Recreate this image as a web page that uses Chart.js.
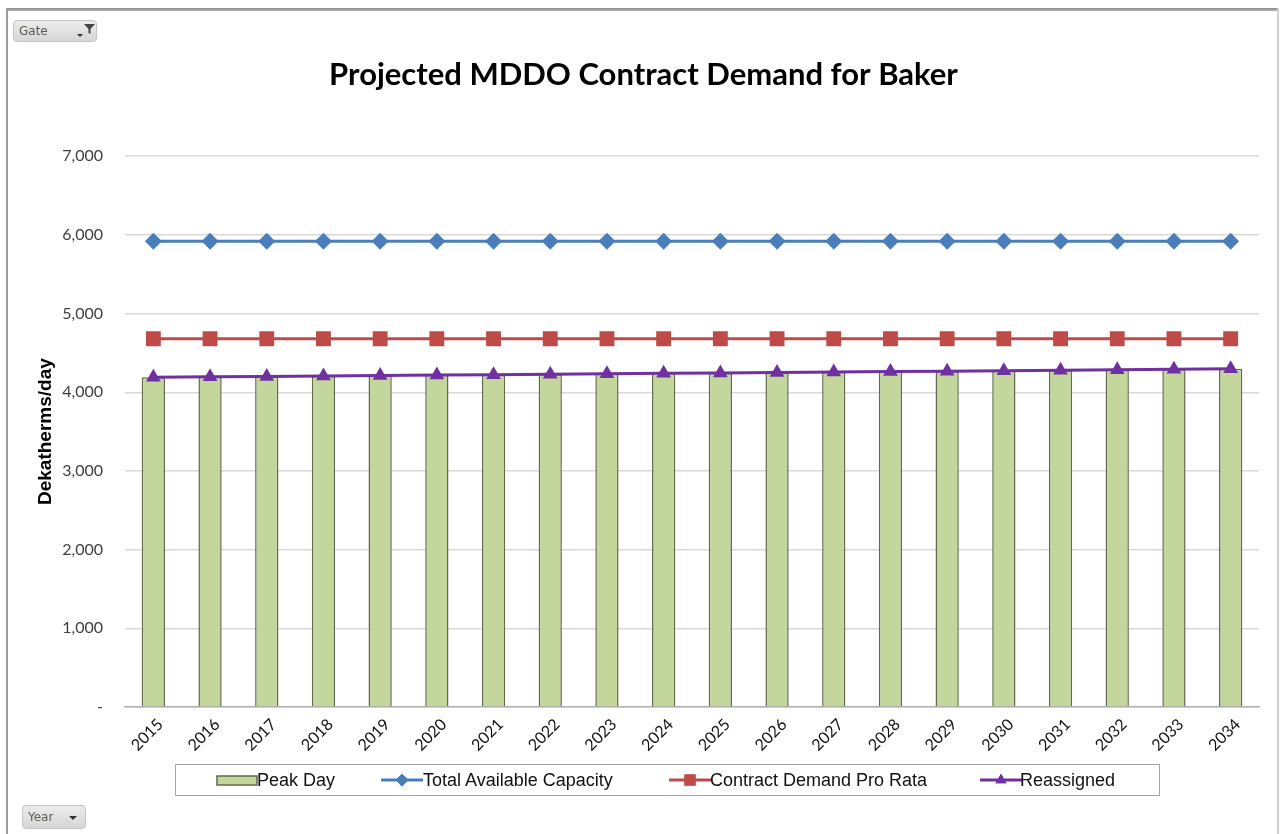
<!DOCTYPE html>
<html>
<head>
<meta charset="utf-8">
<script src="https://cdn.jsdelivr.net/npm/chart.js@4.4.1/dist/chart.umd.min.js"></script>
<style>
  html, body { margin: 0; padding: 0; background: #ffffff; }
  #wrap { position: relative; width: 1280px; height: 834px; overflow: hidden; background: #fff; }
  #c { position: absolute; left: 0; top: 0; }
  .frameTop { position: absolute; left: 6px; top: 8px; width: 1273px; height: 3px; background: linear-gradient(#8a8a8a, #b5b5b5); }
  .frameLeft { position: absolute; left: 6px; top: 8px; width: 2px; height: 826px; background: #9a9a9a; }
  .frameRight { position: absolute; left: 1277px; top: 8px; width: 2px; height: 826px; background: #cfcfcf; }
  .btn { position: absolute; border: 1px solid #c4c4c4; border-radius: 4px;
         background: linear-gradient(#ececec, #d6d6d6); font-family: "DejaVu Sans", sans-serif;
         font-size: 12px; color: #5f5a52; box-sizing: border-box; }
  .btn span.t { position: absolute; left: 5px; top: 3px; }
  .arrow { position: absolute; width: 0; height: 0; border-left: 4px solid transparent;
           border-right: 4px solid transparent; border-top: 4px solid #333; }
  #legend { position: absolute; left: 175px; top: 764px; width: 985px; height: 32px;
            border: 1px solid #a6a6a6; box-sizing: border-box;
            font-family: "Liberation Sans", Arial, sans-serif; font-size: 18px; color: #111; }
</style>
</head>
<body>
<div id="wrap">
  <canvas id="c" width="1280" height="834"></canvas>
  <div class="frameTop"></div>
  <div class="frameLeft"></div>
  <div class="frameRight"></div>
  <div class="btn" style="left:13px; top:20px; width:84px; height:22px;">
    <span class="t">Gate</span>
    <div class="arrow" style="left:63px; top:13px; border-left-width:3px; border-right-width:3px; border-top-width:3px;"></div>
    <svg style="position:absolute; left:69px; top:2px;" width="13" height="12" viewBox="0 0 13 12">
      <path d="M1 1 L12 1 L7.5 6 L7.5 11 L5.5 10 L5.5 6 Z" fill="#444"/>
    </svg>
  </div>
  <div class="btn" style="left:22px; top:805px; width:64px; height:24px;">
    <span class="t" style="top:4px;">Year</span>
    <div class="arrow" style="left:46px; top:10px;"></div>
  </div>
  <div id="legend"></div>
</div>
<script>
// ---- Data ----
const categories = ['2015','2016','2017','2018','2019','2020','2021','2022','2023','2024',
                    '2025','2026','2027','2028','2029','2030','2031','2032','2033','2034'];
const peakDay = [4190,4196,4201,4207,4212,4218,4224,4229,4235,4240,
                 4246,4252,4257,4263,4268,4274,4280,4285,4291,4300];
const totalAvailableCapacity = [5920,5920,5920,5920,5920,5920,5920,5920,5920,5920,
                                5920,5920,5920,5920,5920,5920,5920,5920,5920,5920];
const contractDemandProRata = [4680,4680,4680,4680,4680,4680,4680,4680,4680,4680,
                               4680,4680,4680,4680,4680,4680,4680,4680,4680,4680];
const reassigned = [4190,4196,4201,4207,4212,4218,4224,4229,4235,4240,
                    4246,4252,4257,4263,4268,4274,4280,4285,4291,4300];
const yTickValues = [0,1000,2000,3000,4000,5000,6000,7000];
const yTickLabels = ['-','1,000','2,000','3,000','4,000','5,000','6,000','7,000'];
const seriesNames = ['Peak Day','Total Available Capacity','Contract Demand Pro Rata','Reassigned'];
const chartTitle = 'Projected MDDO Contract Demand for Baker';
const yAxisTitle = 'Dekatherms/day';

const datasets = [
  { type: 'bar', label: seriesNames[0], data: peakDay, backgroundColor: '#c3d69b',
    borderColor: '#5f6a4c', borderWidth: 1.5, barPercentage: 0.41, categoryPercentage: 1.0, order: 10 },
  { type: 'line', label: seriesNames[1], data: totalAvailableCapacity, borderColor: '#4a7ebb',
    backgroundColor: '#4a7ebb', borderWidth: 3, pointStyle: 'rectRot', pointRadius: 8.5,
    pointBorderWidth: 0, order: 3 },
  { type: 'line', label: seriesNames[2], data: contractDemandProRata, borderColor: '#be4b48',
    backgroundColor: '#be4b48', borderWidth: 3, pointStyle: 'rect', pointRadius: 10.5,
    pointBorderWidth: 0, order: 2 },
  { type: 'line', label: seriesNames[3], data: reassigned, borderColor: '#7030a0',
    backgroundColor: '#7030a0', borderWidth: 3, pointStyle: 'triangle', pointRadius: 8.5,
    pointBorderWidth: 0, order: 1 }
];

const bgPlugin = {
  id: 'bg',
  beforeDraw(chart) {
    const ctx = chart.ctx;
    ctx.save(); ctx.fillStyle = '#fff'; ctx.fillRect(0, 0, chart.width, chart.height); ctx.restore();
  }
};

const chart = new Chart(document.getElementById('c'), {
  data: { labels: categories, datasets: datasets },
  options: {
    responsive: false,
    animation: false,
    layout: { padding: { left: 28, right: 21, top: 0, bottom: 0 } },
    plugins: {
      legend: { display: false },
      tooltip: { enabled: false },
      title: {
        display: true, text: chartTitle, color: '#000',
        font: { family: 'Lato', size: 31, weight: 'bold' },
        padding: { top: 56, bottom: 63 }
      }
    },
    scales: {
      x: {
        offset: true,
        grid: { display: false, drawTicks: false },
        border: { display: true, color: '#b0b0b0', width: 1.5 },
        ticks: { color: '#111', font: { family: 'Lato', size: 16 }, minRotation: 45, maxRotation: 45,
                 padding: 8, labelOffset: 7, autoSkip: false },
        afterFit(scale) { scale.height = 127; }
      },
      y: {
        min: 0, max: 7000,
        afterBuildTicks(scale) { scale.ticks = yTickValues.map(v => ({ value: v })); },
        grid: { color: '#d9d9d9', lineWidth: 1.5, drawTicks: false },
        border: { display: false },
        ticks: {
          color: '#404040', font: { family: 'Lato', size: 16 }, padding: 22,
          callback: (v) => { const i = yTickValues.indexOf(v); return i >= 0 ? yTickLabels[i] : ''; }
        },
        title: { display: true, text: yAxisTitle, color: '#000',
                 font: { family: 'Liberation Sans', size: 19, weight: 'bold' }, padding: { top: 6, bottom: 0 } },
        afterFit(scale) { scale.width = 97; }
      }
    }
  },
  plugins: [bgPlugin]
});

// ---- HTML legend built from the datasets ----
const legendPos = [{ icon: 216, text: 257 }, { icon: 381, text: 423 }, { icon: 669, text: 710 }, { icon: 980, text: 1020 }];
const legendEl = document.getElementById('legend');
chart.data.datasets.forEach((ds, i) => {
  const icon = document.createElement('canvas');
  icon.width = 42; icon.height = 20;
  icon.style.position = 'absolute';
  icon.style.left = (legendPos[i].icon - 176) + 'px';
  icon.style.top = '5px';
  legendEl.appendChild(icon);
  const g = icon.getContext('2d');
  if (ds.type === 'bar') {
    g.fillStyle = ds.backgroundColor; g.strokeStyle = ds.borderColor; g.lineWidth = 1.5;
    g.fillRect(1, 6, 40, 9); g.strokeRect(1, 6, 40, 9);
  } else {
    g.strokeStyle = ds.borderColor; g.lineWidth = 3;
    g.beginPath(); g.moveTo(0, 10); g.lineTo(42, 10); g.stroke();
    g.fillStyle = ds.backgroundColor;
    Chart.helpers.drawPoint(g, { pointStyle: ds.pointStyle, radius: ds.pointRadius * 0.75, rotation: 0, borderWidth: 0 }, 21, 10);
    g.fill();
  }
  const t = document.createElement('span');
  t.textContent = ds.label;
  t.style.position = 'absolute';
  t.style.left = (legendPos[i].text - 176) + 'px';
  t.style.top = '0px'; t.style.lineHeight = '30px';
  legendEl.appendChild(t);
});
</script>
</body>
</html>
